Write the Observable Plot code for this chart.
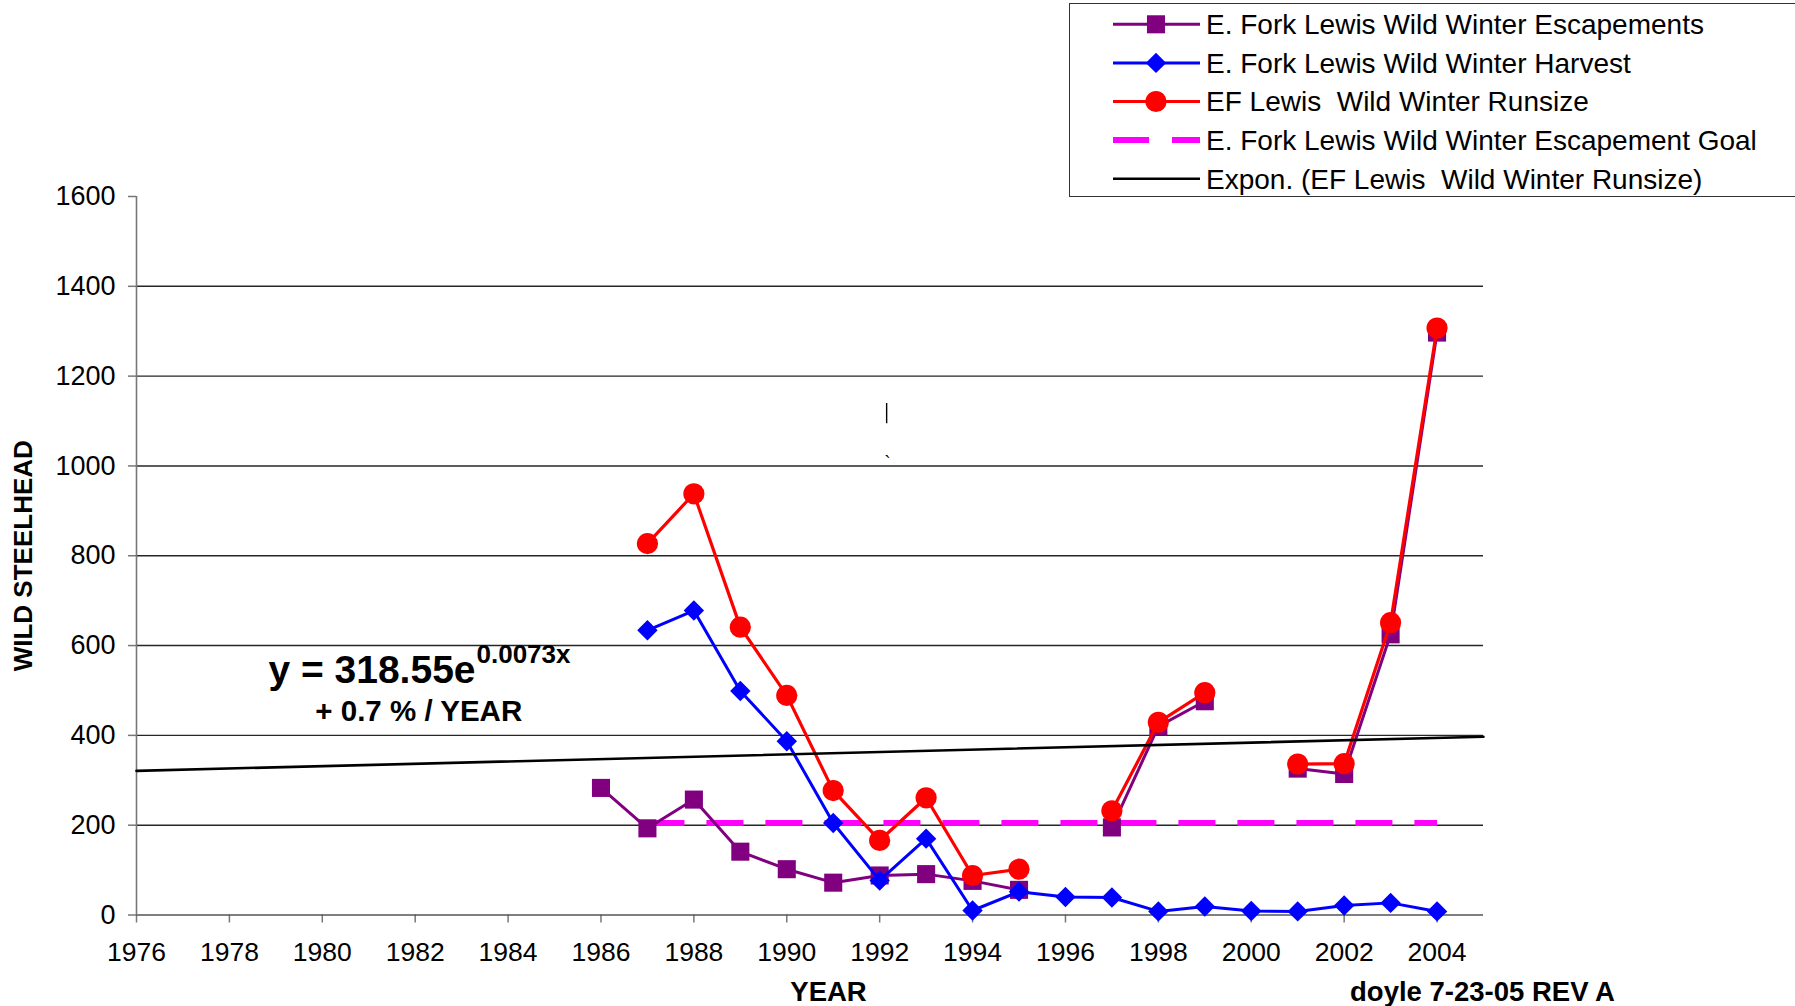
<!DOCTYPE html>
<html>
<head>
<meta charset="utf-8">
<script src="https://cdn.jsdelivr.net/npm/d3@7"></script>
<script src="https://cdn.jsdelivr.net/npm/@observablehq/plot@0.6"></script>
<style>
  html, body { margin: 0; padding: 0; background: #fff; overflow: hidden; }
  #wrap { position: relative; width: 1795px; height: 1006px; font-family: "Liberation Sans", Arial, sans-serif; }
  #legend { position: absolute; left: 1069px; top: 3px; width: 740px; height: 194px; border: 1.5px solid #333; box-sizing: border-box; background: #fff; }
  #legend text { white-space: pre; }
</style>
</head>
<body>
<div id="wrap"><div id="chart"></div><div id="legend"></div></div>
<script>
// ---- data ----
const years       = [1986, 1987, 1988, 1989, 1990, 1991, 1992, 1993, 1994, 1995, 1996, 1997, 1998, 1999, 2000, 2001, 2002, 2003, 2004];
const escapements = [283, 193, 257, 141, 102, 72, 88, 91, 76, 56, null, 195, 420, 476, null, 326, 314, 625, 1297];
const harvest     = [null, 634, 678, 499, 387, 205, 77, 170, 10, 52, 40, 39, 8, 19, 9, 8, 21, 27, 8];
const runsize     = [null, 827, 938, 641, 489, 277, 166, 261, 88, 102, null, 232, 429, 495, null, 336, 337, 651, 1307];
const goal        = [null, 205, 205, 205, 205, 205, 205, 205, 205, 205, 205, 205, 205, 205, 205, 205, 205, 205, 205];
const trendYears  = [1976, 2005];
const trendValues = [321, 397];
const xTicks = [1976, 1978, 1980, 1982, 1984, 1986, 1988, 1990, 1992, 1994, 1996, 1998, 2000, 2002, 2004];
const yTicks = [0, 200, 400, 600, 800, 1000, 1200, 1400, 1600];
const gridValues = [200, 400, 600, 800, 1000, 1200, 1400];
const seriesNames = [
  "E. Fork Lewis Wild Winter Escapements",
  "E. Fork Lewis Wild Winter Harvest",
  "EF Lewis  Wild Winter Runsize",
  "E. Fork Lewis Wild Winter Escapement Goal",
  "Expon. (EF Lewis  Wild Winter Runsize)"
];
const eqMain = "y = 318.55e";
const eqSup = "0.0073x";
const eqRate = "+ 0.7 % / YEAR";
const yTitle = "WILD STEELHEAD";
const xTitle = "YEAR";
const credit = "doyle 7-23-05 REV A";

// annotation anchors (data coordinates)
const eqMainAt = {year: 1978.84, value: 517.7};
const eqSupAt  = {year: 1983.32, value: 560.1};
const eqRateAt = {year: 1979.85, value: 433.1};
const stray1 = {year: 1992.15, v1: 1094, v2: 1139};
const stray2 = {year: 1992.17, value: 1021};

const toRows = (vals) => years.map((y, i) => ({year: y, value: vals[i]}));
const escRows = toRows(escapements), harRows = toRows(harvest), runRows = toRows(runsize), goalRows = toRows(goal);
const trendRows = trendYears.map((y, i) => ({year: y, value: trendValues[i]}));
const defined = r => r.value != null;

const C = {esc: "#800080", har: "#0000FF", run: "#FF0000", goal: "#FF00FF", trend: "#000000"};

const chart = Plot.plot({
  width: 1795,
  height: 1006,
  marginLeft: 136,
  marginRight: 312,
  marginTop: 196,
  marginBottom: 91.5,
  style: {fontFamily: "'Liberation Sans', Arial, sans-serif", background: "#fff", color: "#000"},
  x: {domain: [1976, 2005], type: "linear"},
  y: {domain: [0, 1600]},
  marks: [
    Plot.gridY(gridValues, {stroke: "#262626", strokeOpacity: 1, strokeWidth: 1.4}),
    Plot.axisX({ticks: xTicks, tickFormat: d => String(d), tickSize: 8, tickPadding: 19, fontSize: 26.5, label: null, stroke: "#777", strokeWidth: 1.5}),
    Plot.axisY({ticks: yTicks, tickSize: 8, tickPadding: 13, fontSize: 27, label: null, stroke: "#777", strokeWidth: 1.5, tickFormat: d => String(d)}),
    Plot.ruleY([0], {stroke: "#555", strokeWidth: 1.6}),
    Plot.ruleX([1976], {y1: 0, y2: 1600, stroke: "#777", strokeWidth: 1.6}),
    // goal
    Plot.line(goalRows, {x: "year", y: "value", stroke: C.goal, strokeWidth: 6, strokeDasharray: "37,22", strokeLinecap: "butt"}),
    // escapements
    Plot.line(escRows, {x: "year", y: "value", stroke: C.esc, strokeWidth: 3}),
    Plot.dot(escRows.filter(defined), {x: "year", y: "value", symbol: "square", r: 10.2, fill: C.esc, stroke: "none"}),
    // harvest
    Plot.line(harRows, {x: "year", y: "value", stroke: C.har, strokeWidth: 3}),
    Plot.dot(harRows.filter(defined), {x: "year", y: "value", symbol: "diamond2", r: 9.2, fill: C.har, stroke: "none"}),
    // runsize
    Plot.line(runRows, {x: "year", y: "value", stroke: C.run, strokeWidth: 3.2}),
    Plot.dot(runRows.filter(defined), {x: "year", y: "value", symbol: "circle", r: 10.6, fill: C.run, stroke: "none"}),
    // trend
    Plot.line(trendRows, {x: "year", y: "value", stroke: C.trend, strokeWidth: 2.6}),
    // annotations
    Plot.text([eqMainAt], {x: "year", y: "value", text: () => eqMain, textAnchor: "start", lineAnchor: "bottom", fontSize: 39, fontWeight: "bold", fill: "#000"}),
    Plot.text([eqSupAt], {x: "year", y: "value", text: () => eqSup, textAnchor: "start", lineAnchor: "bottom", fontSize: 26, fontWeight: "bold", fill: "#000"}),
    Plot.text([eqRateAt], {x: "year", y: "value", text: () => eqRate, textAnchor: "start", lineAnchor: "bottom", fontSize: 29.5, fontWeight: "bold", fill: "#000"}),
    Plot.ruleX([stray1], {x: "year", y1: "v1", y2: "v2", stroke: "#000", strokeWidth: 1.4}),
    Plot.text([stray2], {x: "year", y: "value", text: () => "`", lineAnchor: "top", fontSize: 18, fill: "#000"}),
    // titles
    Plot.text([yTitle], {frameAnchor: "left", text: d => d, rotate: -90, dx: -113, fontSize: 26, fontWeight: "bold", textAnchor: "middle", lineAnchor: "middle", fill: "#000"}),
    Plot.text([xTitle], {frameAnchor: "bottom", text: d => d, dx: 18.5, dy: 77, fontSize: 27.5, fontWeight: "bold", textAnchor: "middle", lineAnchor: "middle", fill: "#000"}),
    Plot.text([credit], {frameAnchor: "bottom-right", text: d => d, dx: -1, dy: 77, fontSize: 27.5, fontWeight: "bold", textAnchor: "middle", lineAnchor: "middle", fill: "#000"})
  ]
});
document.getElementById("chart").appendChild(chart);

// ---- legend ----
const legendColors = [C.esc, C.har, C.run, C.goal, C.trend];
const legendSymbols = ["square", "diamond2", "circle", null, null];
const leg = d3.select("#legend").append("svg").attr("width", 740).attr("height", 194)
  .style("font-family", "'Liberation Sans', Arial, sans-serif");
const symMap = {square: d3.symbolSquare, diamond2: d3.symbolDiamond2, circle: d3.symbolCircle};
const symR = {square: 10.2, diamond2: 9.2, circle: 10.6};
seriesNames.forEach((name, i) => {
  const cy = 20.3 + 38.6 * i;
  const g = leg.append("g");
  const line = g.append("line").attr("x1", 43).attr("x2", 130).attr("y1", cy).attr("y2", cy)
    .attr("stroke", legendColors[i]);
  if (i === 3) line.attr("stroke-width", 6).attr("stroke-dasharray", "36,23");
  else if (i === 4) line.attr("stroke-width", 2.6);
  else line.attr("stroke-width", 3);
  if (legendSymbols[i]) {
    const s = legendSymbols[i];
    g.append("path").attr("d", d3.symbol(symMap[s], Math.PI * symR[s] * symR[s])())
      .attr("transform", `translate(86,${cy})`).attr("fill", legendColors[i]);
  }
  g.append("text").attr("x", 136).attr("y", cy).attr("dy", "0.35em")
    .attr("xml:space", "preserve").style("white-space", "pre")
    .attr("font-size", 28).attr("fill", "#000").text(name);
});
</script>
</body>
</html>
